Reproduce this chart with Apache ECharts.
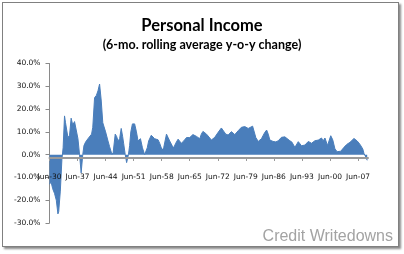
<!DOCTYPE html>
<html>
<head>
<meta charset="utf-8">
<script src="https://cdn.jsdelivr.net/npm/echarts@6/dist/echarts.min.js"></script>
<style>
html,body{margin:0;padding:0;background:#fff;}
#wrap{position:relative;width:404px;height:254px;overflow:hidden;}
#frame{position:absolute;left:2px;top:2px;width:395px;height:243px;border:1px solid #808080;box-shadow:2px 2px 2px #8a8a8a;background:#fff;}
#chart{position:absolute;left:0;top:0;width:404px;height:254px;}
</style>
</head>
<body>
<div id="wrap"><div id="frame"></div><div id="chart"></div></div>
<script>
// Time (decimal years) of each sampled point
const years = [1930.5,1930.9,1931.3,1931.75,1932.2,1932.6,1932.8,1933.2,1933.6,1933.9,
 1934.25,1934.5,1935.1,1935.5,1935.9,1936.3,1936.75,1937.2,1937.6,1938.0,
 1938.4,1938.8,1939.1,1939.5,1940.1,1940.5,1941.0,1941.3,1941.75,1942.2,
 1942.6,1943.0,1943.4,1943.8,1944.5,1945.1,1945.5,1946.1,1946.4,1946.9,
 1947.25,1947.6,1948.0,1948.4,1948.75,1949.0,1949.4,1949.75,1950.2,1950.5,
 1950.8,1951.2,1951.75,1952.2,1952.6,1953.2,1953.7,1954.25,1954.5,1954.9,
 1955.25,1955.9,1956.75,1957.6,1958.0,1958.6,1959.0,1959.7,1960.1,1960.5,
 1961.1,1961.5,1962.0,1962.6,1963.4,1964.0,1964.7,1965.5,1966.3,1967.2,
 1968.0,1968.4,1968.8,1969.7,1970.5,1970.9,1971.75,1972.6,1973.4,1973.8,
 1974.5,1975.1,1975.9,1976.3,1976.75,1977.6,1978.4,1979.25,1980.1,1980.5,
 1981.2,1981.6,1982.0,1982.6,1983.0,1983.4,1984.25,1984.7,1985.1,1985.5,
 1986.3,1987.0,1987.6,1988.4,1989.25,1989.7,1990.5,1991.0,1991.75,1992.6,
 1993.4,1994.25,1995.1,1995.9,1996.75,1997.6,1998.4,1998.8,1999.25,1999.9,
 2000.7,2001.2,2001.75,2002.3,2003.2,2004.0,2004.7,2005.5,2005.9,2006.5,
 2007.3,2008.0,2008.7,2009.0,2009.5,2009.8];
// 6-mo. rolling average y-o-y change (%)
const changes = [-13,-12,-15,-17,-20,-26,-25,-16,-2,3,
 17,14,7.5,8.5,16,13,14.5,14,7,0,
 -8,0,4,5.5,7,7.5,9,12,25,26,
 28,31,24,14,10,6,3.5,0,1,9,
 8,6,7,11.5,8,5,0,-3.5,0,4,
 10,13.5,13.5,10,6,7,3,0,0,3,
 6,8.5,7,6.5,5,2,3,9,7.5,6,
 4,3,5,6.8,5,6,7.5,7.5,8.8,8,
 7,9,10.2,9,7.3,6.4,7.6,9.8,11.7,11,
 9,8.6,10.1,9.6,8.8,10.5,12,12.3,11.5,12,
 12.5,13.3,7.5,5.8,5.4,7,9.8,10.8,9,6.4,
 5.8,5.6,6.1,7.6,7.8,7.6,6.1,5.5,3.2,5.7,
 3.9,4.2,5.8,5,6.1,6.4,7.3,6,7.3,4,
 8.3,6.5,2.5,1.3,1.5,3.2,4.5,5.4,5,7.1,
 6,4.5,2.5,0.5,-1.2,-2.5];
const xTickLabels = ['Jun-30','Jun-37','Jun-44','Jun-51','Jun-58','Jun-65','Jun-72','Jun-79','Jun-86','Jun-93','Jun-00','Jun-07'];
const yTicks = [-30,-20,-10,0,10,20,30,40];

const startYear = 1930.5;
const seriesData = years.map((y, i) => [(y - startYear) * 12, changes[i]]);

const chart = echarts.init(document.getElementById('chart'), null, {renderer: 'canvas'});
const labelFont = 'DejaVu Sans';
chart.setOption({
  animation: false,
  backgroundColor: 'transparent',
  title: [
    {text: 'Personal Income', left: 'center', top: 12,
     textStyle: {fontFamily: 'Lato', fontWeight: 'bold', fontSize: 16.5, color: '#000'}},
    {text: '(6-mo. rolling average y-o-y change)', left: 'center', top: 33,
     textStyle: {fontFamily: 'Lato', fontWeight: 'bold', fontSize: 12.5, color: '#000'}}
  ],
  graphic: [
    {type: 'text', right: 11, top: 229, z: 10,
     style: {text: 'Credit Writedowns', fill: '#a3a3a3', font: '16px "Liberation Sans", Arial, sans-serif'}}
  ],
  grid: {left: 49.5, right: 36, top: 63.5, bottom: 31, containLabel: false},
  xAxis: {
    type: 'value', min: 0, max: 954, interval: 84,
    z: 5,
    offset: -65,
    axisLine: {onZero: false, lineStyle: {color: '#9a9a9a', width: 2}},
    axisTick: {show: true, inside: false, length: 3, lineStyle: {color: '#9a9a9a'}},
    splitLine: {show: false},
    axisLabel: {
      margin: 15, fontFamily: labelFont, fontSize: 7.5, color: '#111',
      showMaxLabel: false,
      formatter: v => { const i = Math.round(v / 84); return (Math.abs(v - i * 84) < 0.01 && xTickLabels[i]) ? xTickLabels[i] : ''; }
    }
  },
  yAxis: {
    type: 'value', min: yTicks[0], max: yTicks[yTicks.length - 1], interval: 10,
    axisLine: {show: true, lineStyle: {color: '#8a8a8a', width: 1}},
    axisTick: {show: true, length: 4, lineStyle: {color: '#8a8a8a'}},
    splitLine: {show: false},
    axisLabel: {margin: 9, fontFamily: labelFont, fontSize: 7.5, color: '#111',
      formatter: v => v.toFixed(1) + '%'}
  },
  series: [{
    type: 'line',
    data: seriesData,
    showSymbol: false,
    symbol: 'none',
    lineStyle: {color: '#4a7ebb', width: 1},
    itemStyle: {color: '#4a7ebb'},
    areaStyle: {color: '#4a7ebb', opacity: 1, origin: 0},
    z: 2
  }]
});
</script>
</body>
</html>
